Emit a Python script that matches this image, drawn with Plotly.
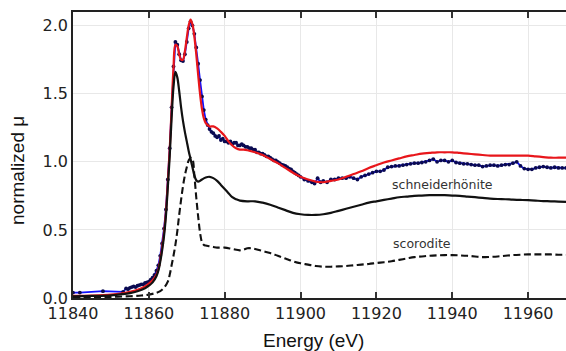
import plotly.graph_objects as go

# ---- data ----
exp_E = [11840, 11841.8, 11847.9, 11853.2, 11854, 11854.5, 11855, 11855.5, 11856, 11856.5,
         11857, 11857.5, 11858, 11858.5, 11859, 11859.5, 11860, 11860.5, 11861, 11861.5,
         11862, 11862.5, 11863, 11863.5, 11864, 11864.5, 11865, 11865.5, 11866, 11866.5,
         11867, 11867.5, 11868, 11868.5, 11869, 11869.5, 11870, 11870.5, 11871, 11871.5,
         11872, 11872.5, 11873, 11873.5, 11874, 11874.5, 11875, 11875.5, 11876, 11876.5,
         11877, 11877.5, 11878, 11878.5, 11879, 11879.5, 11880, 11880.5, 11881, 11881.5,
         11882, 11882.5, 11883, 11883.5, 11884, 11884.5, 11885, 11885.5, 11886, 11886.5,
         11887, 11887.5, 11888, 11888.5, 11889, 11889.5, 11890, 11890.5, 11891, 11891.5,
         11892, 11892.5, 11893, 11893.5, 11894, 11894.5, 11895, 11895.5, 11896, 11896.5,
         11897, 11897.5, 11898, 11898.5, 11899, 11899.5, 11900, 11901, 11902, 11903,
         11903.7, 11904.5, 11905.3, 11906, 11907, 11908, 11909, 11910, 11911, 11912,
         11913, 11914, 11915, 11916, 11917, 11918, 11919, 11920, 11921, 11922,
         11923, 11924, 11925, 11926, 11927, 11928, 11929, 11930, 11931, 11932,
         11933, 11934, 11935, 11936, 11937, 11938, 11939, 11940, 11941, 11942,
         11943, 11944, 11945, 11946, 11947, 11948, 11949, 11950, 11951, 11952,
         11953, 11954, 11955, 11956, 11957, 11958, 11959, 11960, 11961, 11962,
         11963, 11964, 11965, 11966, 11967, 11968, 11969, 11970]
exp_mu = [0.040, 0.040, 0.050, 0.045, 0.070, 0.065, 0.075, 0.080, 0.085, 0.080,
          0.090, 0.095, 0.100, 0.100, 0.110, 0.115, 0.120, 0.135, 0.150, 0.170,
          0.200, 0.240, 0.310, 0.400, 0.510, 0.650, 0.870, 1.100, 1.400, 1.700,
          1.880, 1.860, 1.790, 1.745, 1.740, 1.790, 1.880, 1.980, 2.030, 2.000,
          1.940, 1.840, 1.720, 1.600, 1.480, 1.380, 1.310, 1.270, 1.240, 1.220,
          1.210, 1.190, 1.180, 1.190, 1.160, 1.170, 1.150, 1.150, 1.140, 1.150,
          1.130, 1.140, 1.140, 1.120, 1.120, 1.130, 1.120, 1.110, 1.110, 1.100,
          1.100, 1.090, 1.090, 1.070, 1.070, 1.060, 1.060, 1.050, 1.040, 1.040,
          1.030, 1.020, 1.010, 1.010, 1.000, 0.990, 0.980, 0.975, 0.970, 0.960,
          0.950, 0.945, 0.930, 0.920, 0.910, 0.900, 0.890, 0.870, 0.860, 0.850,
          0.840, 0.880, 0.850, 0.860, 0.850, 0.870, 0.870, 0.880, 0.880, 0.880,
          0.890, 0.880, 0.870, 0.890, 0.900, 0.910, 0.920, 0.930, 0.930, 0.940,
          0.960, 0.965, 0.970, 0.970, 0.975, 0.980, 0.985, 0.990, 0.990, 0.995,
          1.000, 1.010, 1.020, 1.000, 1.010, 1.010, 1.000, 1.010, 0.995, 0.990,
          0.985, 0.985, 0.980, 0.975, 0.975, 0.965, 0.970, 0.975, 0.975, 0.970,
          0.975, 0.980, 0.980, 0.990, 1.000, 0.970, 0.950, 0.945, 0.945, 0.955,
          0.960, 0.965, 0.960, 0.955, 0.960, 0.955, 0.955, 0.955]

fit_E = [11840, 11845, 11850, 11853, 11855, 11857, 11859, 11860, 11861, 11862,
         11862.5, 11863, 11863.5, 11864, 11864.5, 11865, 11865.5, 11866, 11866.5, 11867,
         11867.5, 11868, 11868.5, 11869, 11869.5, 11870, 11870.5, 11871, 11871.5, 11872,
         11872.5, 11873, 11873.5, 11874, 11874.5, 11875, 11876, 11877, 11878, 11879,
         11880, 11881, 11882, 11883, 11884, 11885, 11886, 11888, 11890, 11892,
         11894, 11896, 11898, 11900, 11902, 11904, 11906, 11908, 11910, 11912,
         11914, 11916, 11918, 11920, 11922, 11924, 11926, 11928, 11930, 11932,
         11934, 11936, 11938, 11940, 11942, 11944, 11946, 11948, 11950, 11952,
         11954, 11956, 11958, 11960, 11962, 11964, 11966, 11968, 11970]
fit_mu = [0.015, 0.018, 0.025, 0.035, 0.045, 0.060, 0.085, 0.105, 0.130, 0.170,
          0.210, 0.280, 0.370, 0.480, 0.630, 0.850, 1.090, 1.390, 1.690, 1.860,
          1.850, 1.790, 1.750, 1.750, 1.810, 1.910, 2.000, 2.045, 2.010, 1.920,
          1.790, 1.640, 1.500, 1.390, 1.320, 1.285, 1.260, 1.260, 1.245, 1.220,
          1.190, 1.150, 1.120, 1.100, 1.090, 1.090, 1.085, 1.070, 1.050, 1.020,
          0.990, 0.955, 0.920, 0.890, 0.870, 0.855, 0.850, 0.860, 0.870, 0.890,
          0.910, 0.930, 0.955, 0.975, 0.995, 1.010, 1.025, 1.040, 1.050, 1.060,
          1.065, 1.070, 1.070, 1.070, 1.065, 1.060, 1.055, 1.050, 1.045, 1.045,
          1.045, 1.045, 1.045, 1.045, 1.040, 1.035, 1.030, 1.030, 1.030]

sch_E = [11840, 11845, 11850, 11853, 11855, 11857, 11859, 11860, 11861, 11862,
         11862.5, 11863, 11863.5, 11864, 11864.5, 11865, 11865.5, 11866, 11866.5, 11867,
         11867.5, 11868, 11868.5, 11869, 11869.5, 11870, 11870.5, 11871, 11871.5, 11872,
         11872.5, 11873, 11873.5, 11874, 11875, 11876, 11877, 11878, 11879, 11880,
         11881, 11882, 11883, 11884, 11886, 11888, 11890, 11892, 11894, 11896,
         11898, 11900, 11902, 11904, 11906, 11908, 11910, 11912, 11914, 11916,
         11918, 11920, 11922, 11924, 11926, 11928, 11930, 11932, 11934, 11936,
         11938, 11940, 11942, 11944, 11946, 11948, 11950, 11952, 11954, 11956,
         11958, 11960, 11962, 11964, 11966, 11968, 11970]
sch_mu = [0.012, 0.015, 0.020, 0.028, 0.036, 0.050, 0.072, 0.090, 0.115, 0.160,
          0.200, 0.265, 0.350, 0.455, 0.600, 0.810, 1.040, 1.320, 1.550, 1.660,
          1.620, 1.520, 1.400, 1.300, 1.220, 1.150, 1.080, 1.020, 0.960, 0.900,
          0.865, 0.855, 0.860, 0.870, 0.885, 0.890, 0.880, 0.860, 0.830, 0.800,
          0.770, 0.740, 0.725, 0.715, 0.710, 0.710, 0.700, 0.685, 0.665, 0.645,
          0.625, 0.615, 0.610, 0.610, 0.615, 0.625, 0.640, 0.655, 0.670, 0.685,
          0.700, 0.710, 0.720, 0.730, 0.740, 0.745, 0.750, 0.752, 0.755, 0.755,
          0.755, 0.752, 0.750, 0.745, 0.740, 0.735, 0.730, 0.727, 0.725, 0.722,
          0.720, 0.718, 0.715, 0.712, 0.710, 0.708, 0.706]

sco_E = [11840, 11845, 11850, 11855, 11858, 11860, 11862, 11863, 11864, 11865,
         11865.5, 11866, 11866.5, 11867, 11867.5, 11868, 11868.5, 11869, 11869.5, 11870,
         11870.5, 11871, 11871.5, 11872, 11872.5, 11873, 11873.5, 11874, 11874.5, 11875,
         11876, 11877, 11878, 11880, 11882, 11884, 11885, 11886, 11887, 11888,
         11890, 11892, 11894, 11896, 11898, 11900, 11902, 11904, 11906, 11908,
         11910, 11912, 11914, 11916, 11918, 11920, 11922, 11924, 11926, 11928,
         11930, 11932, 11934, 11936, 11938, 11940, 11942, 11944, 11946, 11948,
         11950, 11952, 11954, 11956, 11958, 11960, 11962, 11964, 11966, 11968, 11970]
sco_mu = [0.002, 0.004, 0.008, 0.013, 0.018, 0.025, 0.038, 0.050, 0.075, 0.120,
          0.170, 0.240, 0.310, 0.390, 0.490, 0.610, 0.720, 0.820, 0.900, 0.960,
          1.010, 1.030, 1.020, 0.900, 0.740, 0.600, 0.480, 0.410, 0.390, 0.385,
          0.380, 0.375, 0.370, 0.370, 0.360, 0.350, 0.355, 0.365, 0.365, 0.360,
          0.345, 0.330, 0.310, 0.290, 0.270, 0.255, 0.245, 0.235, 0.230, 0.230,
          0.232, 0.235, 0.240, 0.245, 0.250, 0.257, 0.263, 0.270, 0.280, 0.290,
          0.300, 0.305, 0.310, 0.313, 0.315, 0.315, 0.313, 0.310, 0.305, 0.300,
          0.302, 0.305, 0.310, 0.315, 0.318, 0.320, 0.320, 0.320, 0.320, 0.318, 0.318]

x_ticks = [11840, 11860, 11880, 11900, 11920, 11940, 11960]
y_ticks = [0.0, 0.5, 1.0, 1.5, 2.0]
labels = [("schneiderhönite", 11937.4, 0.83), ("scorodite", 11932.0, 0.40)]

fig = go.Figure()
fig.add_trace(go.Scatter(x=exp_E, y=exp_mu, mode="lines+markers",
                         line=dict(color="#0f0fff", width=1.8),
                         marker=dict(color="#0a0a50", size=3.8), showlegend=False))
fig.add_trace(go.Scatter(x=fit_E, y=fit_mu, mode="lines",
                         line=dict(color="#e8161b", width=2.2, shape="spline"), showlegend=False))
fig.add_trace(go.Scatter(x=sch_E, y=sch_mu, mode="lines",
                         line=dict(color="#111111", width=2.2, shape="spline"), showlegend=False))
fig.add_trace(go.Scatter(x=sco_E, y=sco_mu, mode="lines",
                         line=dict(color="#111111", width=2.1, dash="7px,3.5px", shape="spline"),
                         showlegend=False))

for txt, lx, ly in labels:
    fig.add_annotation(x=lx, y=ly, text=txt, showarrow=False, xanchor="center", yanchor="middle",
                       font=dict(family="DejaVu Sans", size=12.5, color="#333333"))

fig.add_annotation(xref="paper", yref="paper", x=0.488, y=-0.147, text="Energy (eV)",
                   showarrow=False, xanchor="center", yanchor="middle",
                   font=dict(family="Liberation Sans", size=19, color="#111111"))
fig.add_annotation(xref="paper", yref="paper", x=-0.1116, y=0.4476, text="normalized μ",
                   showarrow=False, xanchor="center", yanchor="middle", textangle=-90,
                   font=dict(family="Liberation Sans", size=19, color="#111111"))

fig.update_layout(
    width=566, height=351,
    margin=dict(l=73, r=0, t=12, b=53),
    paper_bgcolor="white", plot_bgcolor="white",
    xaxis=dict(range=[11840, 11970], tickvals=x_ticks, ticktext=[str(v) for v in x_ticks],
               showgrid=True, gridcolor="#e8e8e8", gridwidth=1, zeroline=False,
               showline=True, linecolor="#222222", linewidth=1.6, mirror="ticks",
               ticks="inside", ticklen=6, tickwidth=1.5, tickcolor="#333333",
               tickfont=dict(family="DejaVu Sans", size=16, color="#222222")),
    yaxis=dict(range=[0, 2.1], tickvals=y_ticks, ticktext=["%.1f" % v for v in y_ticks],
               showgrid=True, gridcolor="#e8e8e8", gridwidth=1, zeroline=False,
               showline=True, linecolor="#222222", linewidth=1.6, ticks="",
               tickfont=dict(family="DejaVu Sans", size=16, color="#222222")),
)

fig.write_html("out.html")
